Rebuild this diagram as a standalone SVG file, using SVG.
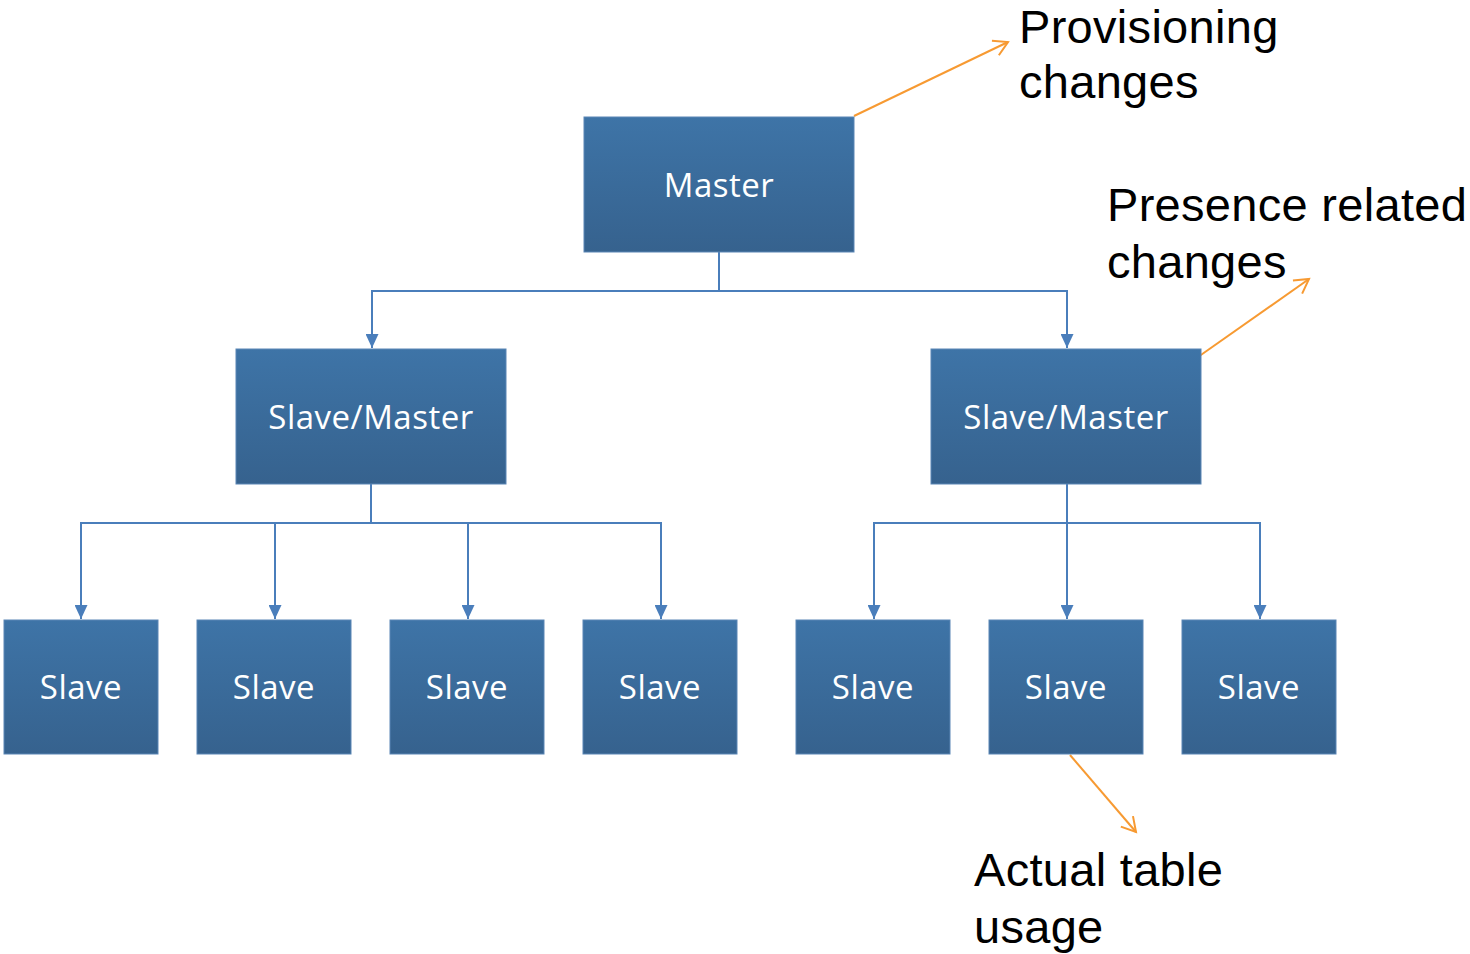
<svg xmlns="http://www.w3.org/2000/svg" width="1470" height="954" viewBox="0 0 1470 954">
<style>
.box{fill:url(#g);stroke:#5a86b5;stroke-width:1}
.bt{font-family:"Open Sans","Noto Sans",sans-serif;font-size:33px;letter-spacing:0.5px;fill:#ffffff;text-anchor:middle}
.lbl{font-family:"Liberation Sans",Arial,sans-serif;font-size:47px;letter-spacing:0.3px;fill:#000000}
.con{fill:none;stroke:#4a7ebb;stroke-width:2}
.ann{fill:none;stroke:#f79a32;stroke-width:2}
</style>
<defs>
<linearGradient id="g" x1="0" y1="0" x2="0" y2="1">
<stop offset="0" stop-color="#3e74a7"/>
<stop offset="1" stop-color="#36628e"/>
</linearGradient>
<marker id="o" viewBox="0 0 20 20" refX="18" refY="10" markerWidth="20" markerHeight="20" markerUnits="userSpaceOnUse" orient="auto" overflow="visible">
<path d="M4,2 L18,10 L4,18" fill="none" stroke="#f79a32" stroke-width="2"/>
</marker>
<marker id="b" viewBox="0 0 14 13" refX="14" refY="6.5" markerWidth="14" markerHeight="13" markerUnits="userSpaceOnUse" orient="auto">
<path d="M0,0 L14,6.5 L0,13 Z" fill="#4a7ebb"/>
</marker>
</defs>
<g id="connectors">
<path class="con" d="M719,252 V291 H372 V348" marker-end="url(#b)"/>
<path class="con" d="M719,291 H1067 V348" marker-end="url(#b)"/>
<path class="con" d="M371,484 V523 H81 V619" marker-end="url(#b)"/>
<path class="con" d="M275,523 V619" marker-end="url(#b)"/>
<path class="con" d="M371,523 H468 V619" marker-end="url(#b)"/>
<path class="con" d="M468,523 H661 V619" marker-end="url(#b)"/>
<path class="con" d="M1067,484 V619" marker-end="url(#b)"/>
<path class="con" d="M1067,523 H874 V619" marker-end="url(#b)"/>
<path class="con" d="M1067,523 H1260 V619" marker-end="url(#b)"/>
<path class="ann" d="M854,116 L1008,42" marker-end="url(#o)"/>
<path class="ann" d="M1198,357 L1309,279" marker-end="url(#o)"/>
<path class="ann" d="M1070,755 L1136,832" marker-end="url(#o)"/>
</g>
<g id="master"><rect class="box" x="584" y="117" width="270" height="135"/><text class="bt" x="719" y="197">Master</text></g>
<g id="sm1"><rect class="box" x="236" y="349" width="270" height="135"/><text class="bt" x="371" y="429">Slave/Master</text></g>
<g id="sm2"><rect class="box" x="931" y="349" width="270" height="135"/><text class="bt" x="1066" y="429">Slave/Master</text></g>
<g id="s1"><rect class="box" x="4" y="620" width="154" height="134"/><text class="bt" x="81" y="699">Slave</text></g>
<g id="s2"><rect class="box" x="197" y="620" width="154" height="134"/><text class="bt" x="274" y="699">Slave</text></g>
<g id="s3"><rect class="box" x="390" y="620" width="154" height="134"/><text class="bt" x="467" y="699">Slave</text></g>
<g id="s4"><rect class="box" x="583" y="620" width="154" height="134"/><text class="bt" x="660" y="699">Slave</text></g>
<g id="s5"><rect class="box" x="796" y="620" width="154" height="134"/><text class="bt" x="873" y="699">Slave</text></g>
<g id="s6"><rect class="box" x="989" y="620" width="154" height="134"/><text class="bt" x="1066" y="699">Slave</text></g>
<g id="s7"><rect class="box" x="1182" y="620" width="154" height="134"/><text class="bt" x="1259" y="699">Slave</text></g>
<g id="labels">
<text class="lbl" x="1019" y="43">Provisioning</text>
<text class="lbl" x="1019" y="98">changes</text>
<text class="lbl" x="1107" y="221">Presence related</text>
<text class="lbl" x="1107" y="278">changes</text>
<text class="lbl" x="974" y="886">Actual table</text>
<text class="lbl" x="974" y="943">usage</text>
</g>
</svg>
